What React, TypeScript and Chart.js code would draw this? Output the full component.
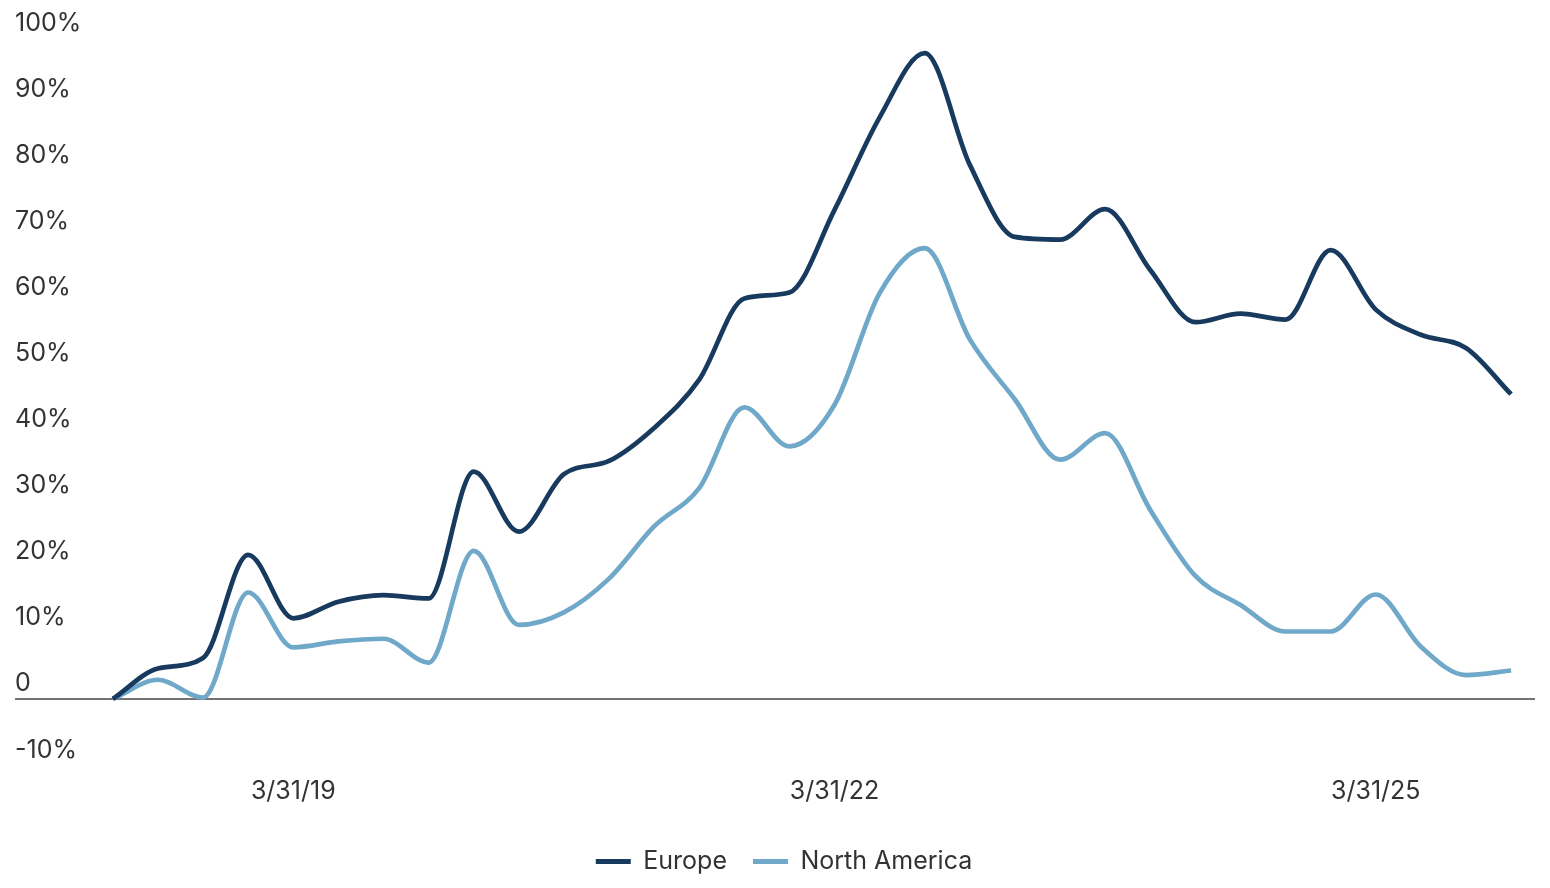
import React, { useEffect, useRef } from "react";
import { Chart, registerables } from "chart.js";

Chart.register(...registerables);

// Quarter-end dates, one per observation
const quarterEnds = [
  "3/31/18", "6/30/18", "9/30/18", "12/31/18",
  "3/31/19", "6/30/19", "9/30/19", "12/31/19",
  "3/31/20", "6/30/20", "9/30/20", "12/31/20",
  "3/31/21", "6/30/21", "9/30/21", "12/31/21",
  "3/31/22", "6/30/22", "9/30/22", "12/31/22",
  "3/31/23", "6/30/23", "9/30/23", "12/31/23",
  "3/31/24", "6/30/24", "9/30/24", "12/31/24",
  "3/31/25", "6/30/25", "9/30/25", "12/31/25",
];

// Cumulative change, in percent
const europe = [
  0, 4.6, 6.2, 21.8, 12.2, 14.7, 15.7, 15.2,
  34.4, 25.3, 34.0, 36.0, 41.0, 48.3, 60.6, 61.5,
  74.0, 88.0, 97.7, 80.8, 69.9, 69.5, 74.1, 64.9,
  57.0, 58.3, 57.4, 67.9, 58.9, 55.1, 53.1, 46.1,
];

const northAmerica = [
  0, 2.9, 0.2, 16.1, 7.8, 8.7, 9.1, 5.5,
  22.4, 11.2, 13.1, 18.2, 26.1, 31.9, 44.1, 38.2,
  44.5, 61.4, 68.2, 54.4, 45.3, 36.2, 40.2, 28.6,
  18.6, 14.2, 10.2, 10.2, 15.8, 7.9, 3.6, 4.3,
];

// Dates shown on the horizontal axis
const axisDates = ["3/31/19", "3/31/22", "3/31/25"];

const FONT_FAMILY = "Inter, 'Liberation Sans', Arial, sans-serif";
const TEXT_COLOR = "#333333";
const EUROPE_COLOR = "#173a5e";
const NA_COLOR = "#6fa8c9";

// Nudges the legend row so it sits where the design puts it
const legendNudge = {
  id: "legendNudge",
  afterLayout(chart: any) {
    const lg = chart.legend;
    if (!lg) return;
    lg.left += 9;
    lg.right += 9;
    lg.top += 6;
    lg.bottom += 6;
  },
};

export default function App() {
  const canvasRef = useRef<HTMLCanvasElement>(null);

  useEffect(() => {
    const canvas = canvasRef.current;
    if (!canvas) return;
    const font = { family: FONT_FAMILY, size: 25 };

    const chart = new Chart(canvas, {
      type: "line",
      data: {
        datasets: [
          {
            label: "Europe",
            data: europe.map((v, i) => ({ x: i, y: v })),
            borderColor: EUROPE_COLOR,
            backgroundColor: EUROPE_COLOR,
            borderWidth: 4.7,
            pointRadius: 0,
            cubicInterpolationMode: "monotone",
            fill: false,
          },
          {
            label: "North America",
            data: northAmerica.map((v, i) => ({ x: i, y: v })),
            borderColor: NA_COLOR,
            backgroundColor: NA_COLOR,
            borderWidth: 4.7,
            pointRadius: 0,
            cubicInterpolationMode: "monotone",
            fill: false,
          },
        ],
      },
      options: {
        animation: false,
        responsive: true,
        maintainAspectRatio: false,
        layout: { padding: { left: 15, right: 15, top: 38, bottom: 10 } },
        scales: {
          x: {
            type: "linear",
            min: -2.17,
            max: 31.53,
            grid: { display: false, drawTicks: false },
            border: { display: false },
            afterBuildTicks: (scale: any) => {
              scale.ticks = axisDates.map((d) => ({ value: quarterEnds.indexOf(d) }));
            },
            ticks: {
              autoSkip: false,
              maxRotation: 0,
              padding: 11,
              font,
              color: TEXT_COLOR,
              callback: (v: any) => quarterEnds[Number(v)] ?? "",
            },
          },
          y: {
            min: -10,
            max: 100,
            grid: {
              drawTicks: false,
              lineWidth: 2,
              color: (ctx: any) => (ctx.tick && ctx.tick.value === 0 ? "#737373" : "rgba(0,0,0,0)"),
            },
            border: { display: false },
            ticks: {
              stepSize: 10,
              mirror: true,
              padding: 0,
              labelOffset: -15,
              font,
              color: TEXT_COLOR,
              callback: (v: any) => (Number(v) === 0 ? "0" : `${v}%`),
            },
          },
        },
        plugins: {
          legend: {
            position: "bottom",
            labels: {
              boxWidth: 35,
              boxHeight: 5,
              padding: 26,
              font,
              color: TEXT_COLOR,
              generateLabels: (c: any) =>
                Chart.defaults.plugins.legend.labels
                  .generateLabels(c)
                  .map((item: any) => ({ ...item, lineWidth: 0 })),
            },
          },
          tooltip: { enabled: false },
        },
      },
      plugins: [legendNudge],
    });

    return () => chart.destroy();
  }, []);

  return (
    <div
      style={{
        position: "fixed",
        left: 0,
        top: 0,
        width: 1550,
        height: 888,
        background: "#ffffff",
      }}
    >
      <canvas ref={canvasRef} />
    </div>
  );
}
